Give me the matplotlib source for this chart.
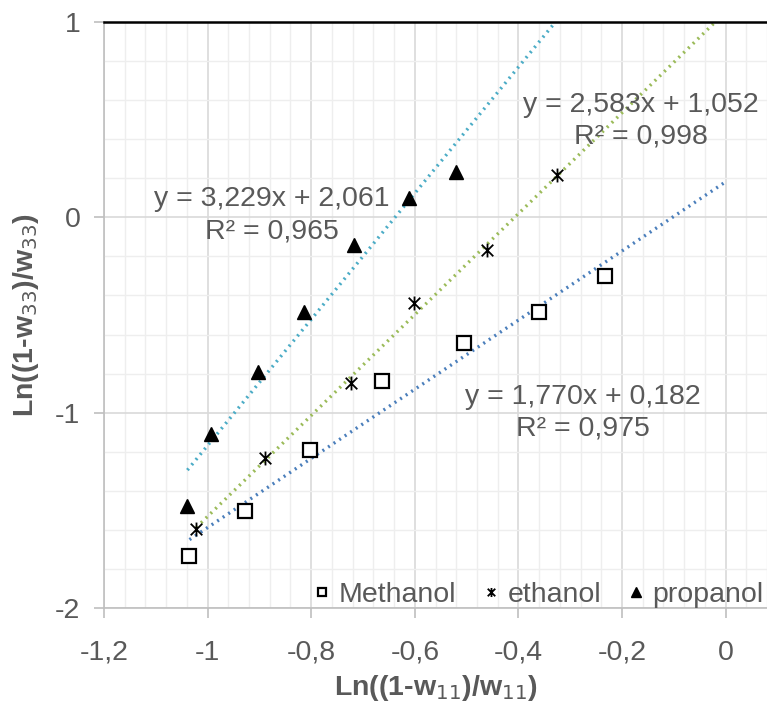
import matplotlib.pyplot as plt
import numpy as np
from matplotlib.path import Path
from matplotlib.ticker import MultipleLocator

plt.rcParams['font.family'] = ['Liberation Sans', 'DejaVu Sans']

# measured points, x = Ln((1-w11)/w11), y = Ln((1-w33)/w33)
methanol_x = [-1.035, -0.928, -0.803, -0.663, -0.505, -0.361, -0.233]
methanol_y = [-1.732, -1.501, -1.191, -0.838, -0.641, -0.484, -0.298]
ethanol_x = [-1.022, -0.889, -0.723, -0.601, -0.461, -0.326]
ethanol_y = [-1.598, -1.231, -0.846, -0.439, -0.165, 0.216]
propanol_x = [-1.039, -0.994, -0.903, -0.813, -0.718, -0.611, -0.521]
propanol_y = [-1.479, -1.111, -0.791, -0.487, -0.141, 0.097, 0.230]

# linear trendlines: slope, intercept, R^2
methanol_fit = (1.770, 0.182, 0.975)
ethanol_fit = (2.583, 1.052, 0.998)
propanol_fit = (3.229, 2.061, 0.965)

xtick_vals = [-1.2, -1.0, -0.8, -0.6, -0.4, -0.2, 0.0]
xtick_labels = ['-1,2', '-1', '-0,8', '-0,6', '-0,4', '-0,2', '0']
ytick_vals = [-2, -1, 0, 1]
ytick_labels = ['-2', '-1', '0', '1']

grey = '#595959'
fs = 20.5

# Excel-style star: an X with a vertical bar through it
star = Path([(-1, -1), (1, 1), (-1, 1), (1, -1), (0, -1.2), (0, 1.2)],
            [Path.MOVETO, Path.LINETO, Path.MOVETO, Path.LINETO, Path.MOVETO, Path.LINETO])

fig = plt.figure(figsize=(7.67, 7.06), dpi=100)
ax = fig.add_axes([0.1356, 0.1388, 0.8645, 0.830])

series = [
    (methanol_x, methanol_y, methanol_fit, '#4a7ebb', 's', 'Methanol', (-0.275, -1.0)),
    (ethanol_x, ethanol_y, ethanol_fit, '#9bbb59', star, 'ethanol', (-0.163, 0.495)),
    (propanol_x, propanol_y, propanol_fit, '#4bacc6', '^', 'propanol', (-0.876, 0.01)),
]

for xs, ys, (k, b, r2), lc, mk, name, (tx, ty) in series:
    xl = np.array([min(xs), 0.0])
    ax.plot(xl, k * xl + b, ls=(0, (0.6, 1.4)), lw=2.4, color=lc, zorder=2)
    if mk == 's':
        ax.plot(xs, ys, ls='none', marker='s', ms=9.5, mfc='white', mec='black', mew=1.6,
                label=name, zorder=3)
    elif mk == '^':
        ax.plot(xs, ys, ls='none', marker='^', ms=10, mfc='black', mec='black',
                label=name, zorder=3)
    else:
        ax.plot(xs, ys, ls='none', marker=mk, ms=10, mfc='none', mec='black', mew=1.3,
                label=name, zorder=3)
    txt = 'y = %sx + %s\nR² = %s' % (('%.3f' % k).replace('.', ','),
                                     ('%.3f' % b).replace('.', ','),
                                     ('%.3f' % r2).replace('.', ','))
    ax.text(tx, ty, txt, ha='center', va='center', fontsize=fs, color=grey,
            linespacing=1.3, zorder=4)

ax.set_xlim(-1.2, 0.08)
ax.set_ylim(-2, 1)
ax.set_xticks(xtick_vals)
ax.set_xticklabels(xtick_labels)
ax.set_yticks(ytick_vals)
ax.set_yticklabels(ytick_labels)
ax.xaxis.set_minor_locator(MultipleLocator(0.04))
ax.yaxis.set_minor_locator(MultipleLocator(0.2))
ax.grid(which='major', color='#d9d9d9', lw=1.2, zorder=0)
ax.grid(which='minor', color='#eeeeee', lw=1.0, zorder=0)
ax.set_axisbelow(True)
ax.tick_params(which='major', colors='#bfbfbf', labelcolor=grey, labelsize=fs,
               length=7, width=1.2)
ax.tick_params(axis='x', which='major', pad=16)
ax.tick_params(axis='y', which='major', pad=10)
ax.tick_params(which='minor', length=0)

for side in ('left', 'bottom'):
    ax.spines[side].set_color('#bfbfbf')
    ax.spines[side].set_linewidth(1.2)
ax.spines['right'].set_visible(False)
ax.spines['top'].set_color('black')
ax.spines['top'].set_linewidth(1.8)

ax.set_xlabel('Ln((1-w$_{11}$)/w$_{11}$)', fontsize=fs, color=grey, fontweight='bold',
              labelpad=5)
ax.set_ylabel('Ln((1-w$_{33}$)/w$_{33}$)', fontsize=fs, color=grey, fontweight='bold',
              labelpad=10)

leg = ax.legend(loc='lower right', ncol=3, frameon=False, fontsize=fs, markerscale=0.65,
                handlelength=0.6, handletextpad=0.3, columnspacing=0.9,
                borderpad=0.0, borderaxespad=0.0, bbox_to_anchor=(0.995, 0.0),
                labelcolor=grey)

fig.savefig('out.png', dpi=100)
